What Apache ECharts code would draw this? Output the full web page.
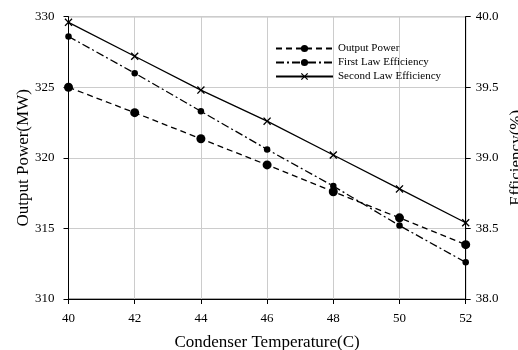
<!DOCTYPE html>
<html>
<head>
<meta charset="utf-8">
<script src="https://cdn.jsdelivr.net/npm/echarts@6/dist/echarts.min.js"></script>
<style>html,body{margin:0;padding:0;background:#fff}#c{width:518px;height:350px}</style>
</head>
<body>
<div id="c"></div>
<script>
var temps = [40, 42, 44, 46, 48, 50, 52];
var outputPower = [325.0, 323.2, 321.35, 319.5, 317.6, 315.75, 313.85];
var firstLaw = [39.86, 39.60, 39.33, 39.06, 38.80, 38.52, 38.26];
var secondLaw = [39.96, 39.72, 39.48, 39.26, 39.02, 38.78, 38.54];
var xTicks = [40, 42, 44, 46, 48, 50, 52];

var F = 'Liberation Serif';
var xPath = 'path://M0,1.2 L1.2,0 L5,3.8 L8.8,0 L10,1.2 L6.2,5 L10,8.8 L8.8,10 L5,6.2 L1.2,10 L0,8.8 L3.8,5 Z';
function pairs(ys){ return temps.map(function(t,i){ return [t, ys[i]]; }); }

var chart = echarts.init(document.getElementById('c'), null, {renderer:'canvas'});
chart.setOption({
  animation:false,
  backgroundColor:'#fff',
  textStyle:{fontFamily:F},
  grid:{left:68.5, right:52.3, top:16.7, bottom:51, show:true, borderColor:'#555', borderWidth:1, containLabel:false, outerBoundsMode:'none'},
  legend:{
    left:270, top:38, orient:'vertical', itemWidth:57, itemHeight:9, itemGap:3,
    textStyle:{fontFamily:F, fontSize:11, color:'#000'},
    data:['Output Power','First Law Efficiency','Second Law Efficiency']
  },
  xAxis:{
    type:'value', min:40, max:52, interval:2,
    name:'Condenser Temperature(C)', nameLocation:'middle', nameGap:35, nameMoveOverlap:false,
    nameTextStyle:{fontFamily:F, fontSize:17, color:'#000'},
    axisLine:{lineStyle:{color:'#000', width:1}},
    axisTick:{show:true, inside:false, length:5, lineStyle:{color:'#000'}},
    axisLabel:{fontFamily:F, fontSize:13, color:'#000', margin:13},
    splitLine:{show:true, lineStyle:{color:'#ccc', width:1}}
  },
  yAxis:[{
    type:'value', min:310, max:330, interval:5, position:'left',
    name:'Output Power(MW)', nameLocation:'middle', nameGap:36, nameMoveOverlap:false,
    nameTextStyle:{fontFamily:F, fontSize:17, color:'#000'},
    axisLine:{show:true, lineStyle:{color:'#000', width:1}},
    axisTick:{show:true, length:5, lineStyle:{color:'#000'}},
    axisLabel:{fontFamily:F, fontSize:13, color:'#000', margin:14},
    splitLine:{show:true, lineStyle:{color:'#ccc', width:1}}
  },{
    type:'value', min:38, max:40, interval:0.5, position:'right',
    name:'Efficiency(%)', nameLocation:'middle', nameGap:42, nameMoveOverlap:false,
    nameTextStyle:{fontFamily:F, fontSize:17, color:'#000'},
    axisLine:{show:true, lineStyle:{color:'#000', width:1}},
    axisTick:{show:true, length:5, lineStyle:{color:'#000'}},
    axisLabel:{fontFamily:F, fontSize:13, color:'#000', margin:10, formatter:function(v){return v.toFixed(1);}},
    splitLine:{show:false}
  }],
  series:[{
    name:'Output Power', type:'line', yAxisIndex:0, data:pairs(outputPower),
    symbol:'circle', symbolSize:9,
    lineStyle:{color:'#000', width:1.3, type:[6,4]},
    itemStyle:{color:'#000'}
  },{
    name:'First Law Efficiency', type:'line', yAxisIndex:1, data:pairs(firstLaw),
    symbol:'circle', symbolSize:6.5,
    lineStyle:{color:'#000', width:1.3, type:[8,3,2,3]},
    itemStyle:{color:'#000'}
  },{
    name:'Second Law Efficiency', type:'line', yAxisIndex:1, data:pairs(secondLaw),
    symbol:xPath, symbolSize:8,
    lineStyle:{color:'#000', width:1.3},
    itemStyle:{color:'#000'}
  }]
});
</script>
</body>
</html>
